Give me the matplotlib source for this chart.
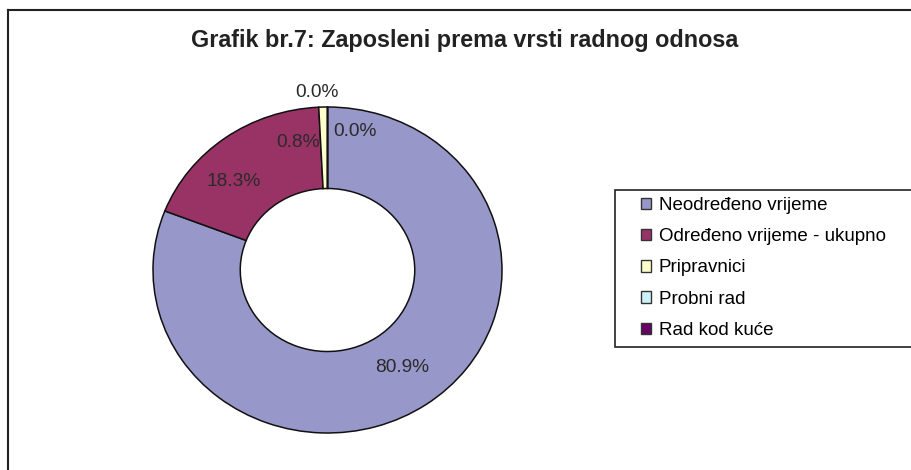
import matplotlib
matplotlib.use("Agg")
import matplotlib.pyplot as plt
from matplotlib.patches import Rectangle, Patch

plt.rcParams['font.family'] = ['Liberation Sans', 'DejaVu Sans']

# podaci
categories = ["Neodređeno vrijeme", "Određeno vrijeme - ukupno", "Pripravnici", "Probni rad", "Rad kod kuće"]
values = [80.9, 18.3, 0.8, 0.0, 0.0]
colors = ["#9797CA", "#993366", "#FFFFCC", "#CCF2F8", "#660066"]
# pozicije natpisa (kao u Excelu)
label_pos = [(0.427, -0.601), (-0.536, 0.54), (-0.169, 0.785), (-0.06, 1.09), (0.158, 0.847)]
title = "Grafik br.7: Zaposleni prema vrsti radnog odnosa"

W, H = 912, 470
fig = plt.figure(figsize=(W / 100, H / 100), dpi=100)

# okvir grafikona
fig.add_artist(plt.Line2D([8 / W, 8 / W], [-0.1, 1 - 10 / H], color="#222222", lw=1.5, transform=fig.transFigure))
fig.add_artist(plt.Line2D([8 / W, 1.1], [1 - 10 / H, 1 - 10 / H], color="#222222", lw=1.5, transform=fig.transFigure))

fig.text(465 / W, 1 - 41 / H, title, ha="center", va="center", fontsize=16.8, fontweight="bold", color="#222222")

ax = fig.add_axes([153 / W, 37 / H, 349 / W, 326 / H])
wedges, texts, autotexts = ax.pie(values, colors=colors, startangle=90, counterclock=False,
                                  autopct="%.1f%%", pctdistance=0.75,
                                  wedgeprops=dict(width=0.5, edgecolor="#111111", linewidth=1.1),
                                  textprops=dict(fontsize=13.8, color="#2a2a2a"))
for t, p in zip(autotexts, label_pos):
    t.set_position(p)
ax.set_aspect("auto")
ax.set_xlim(-1, 1)
ax.set_ylim(-1, 1)
ax.axis("off")

# legenda
fig.add_artist(Rectangle((615 / W, 1 - 347 / H), 1.0, 157 / H, transform=fig.transFigure,
                         facecolor="white", edgecolor="#222222", lw=1.2))
handles = [Patch(facecolor=c, edgecolor="#333333", linewidth=1.0) for c in colors]
fig.legend(handles, categories, loc="upper left", bbox_to_anchor=(641 / W, 1 - 197 / H),
           frameon=False, fontsize=13.5, handlelength=0.55, handleheight=0.55,
           handletextpad=0.4, labelspacing=0.76, borderpad=0.0, borderaxespad=0.0)

plt.savefig("out.png", dpi=100)
